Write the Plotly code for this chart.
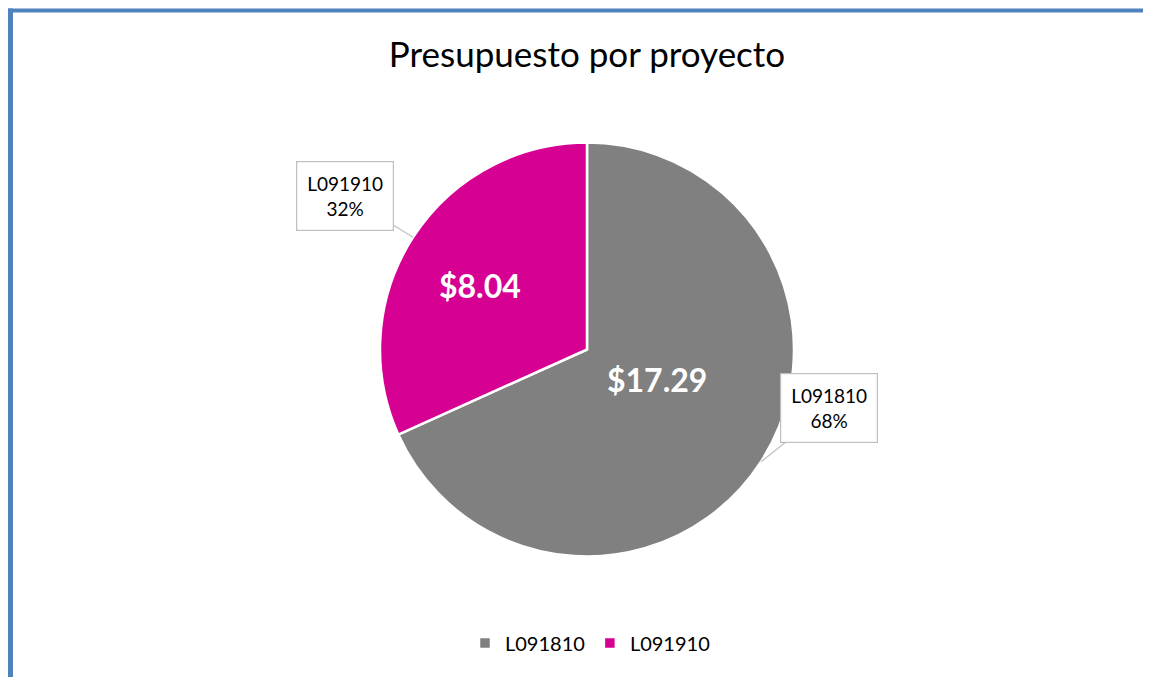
import math
import plotly.graph_objects as go

# ---- data ----
categories = ["L091810", "L091910"]
values = [17.29, 8.04]
colors = ["#808080", "#D60093"]
title_text = "Presupuesto por proyecto"

# page body has an 8px margin; figure is sized to fill the rest of the window
OFF = 8
W, H = 1151 - OFF, 677 - OFF
cx, cy, R = 587.0, 349.5, 207.0  # pie centre / radius in window pixels

def px(x):
    return (x - OFF) / W

def py(y):
    return 1 - (y - OFF) / H

fig = go.Figure()
fig.add_trace(go.Pie(
    labels=categories,
    values=values,
    sort=False,
    direction="clockwise",
    rotation=0,
    textinfo="none",
    hoverinfo="label+value+percent",
    marker=dict(colors=colors, line=dict(color="white", width=2.5)),
    domain=dict(x=[px(cx - R), px(cx + R)], y=[py(cy + R), py(cy - R)]),
    showlegend=True,
))

total = sum(values)
annotations = []
cum = 0.0
inner_place = [(-9.5, 0.37), (-2.0, 0.60)]   # (angle tweak deg, radius fraction)
box_offsets = [(68, -54), (-68, -41)]
FONT = "Lato, Open Sans, sans-serif"
for i, (cat, v) in enumerate(zip(categories, values)):
    mid = (cum + v / 2) / total * 2 * math.pi
    cum += v
    a = mid + math.radians(inner_place[i][0])
    f = inner_place[i][1]
    lx, ly = cx + math.sin(a) * R * f, cy - math.cos(a) * R * f
    annotations.append(dict(
        x=px(lx), y=py(ly), xref="paper", yref="paper",
        text="<b>$%.2f</b>" % v, showarrow=False,
        font=dict(family=FONT, size=32, color="white"),
    ))
    tx, ty = cx + math.sin(mid) * R, cy - math.cos(mid) * R
    pct = round(v / total * 100)
    annotations.append(dict(
        x=px(tx), y=py(ty), xref="paper", yref="paper",
        text="%s<br>%d%%" % (cat, pct), showarrow=True,
        ax=box_offsets[i][0], ay=box_offsets[i][1],
        arrowhead=0, arrowwidth=1.2, arrowcolor="#BFBFBF",
        bordercolor="#BFBFBF", borderwidth=1.2, borderpad=10,
        bgcolor="white",
        font=dict(family=FONT, size=19, color="#000000"),
    ))

fig.update_layout(
    width=W, height=H,
    margin=dict(l=0, r=0, t=0, b=0),
    paper_bgcolor="white",
    plot_bgcolor="white",
    title=dict(text=title_text, x=px(587), xanchor="center", y=py(55), yanchor="middle",
               font=dict(family=FONT, size=35, color="#000000")),
    legend=dict(orientation="h", x=px(590), xanchor="center", y=py(643), yanchor="middle",
                font=dict(family=FONT, size=20, color="#000000"),
                traceorder="normal"),
    annotations=annotations,
    shapes=[
        dict(type="line", xref="paper", yref="paper", x0=px(8), x1=1, y0=py(10.5), y1=py(10.5),
             line=dict(color="#4F81BD", width=4)),
        dict(type="line", xref="paper", yref="paper", x0=px(10.5), x1=px(10.5), y0=0, y1=py(8.5),
             line=dict(color="#4F81BD", width=5)),
    ],
)

fig.write_html("out.html")
